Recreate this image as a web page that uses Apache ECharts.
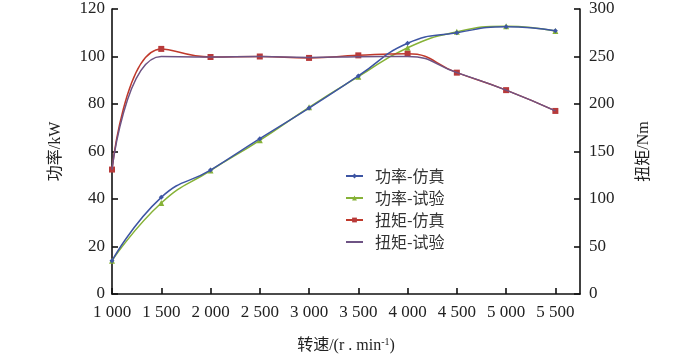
<!DOCTYPE html>
<html>
<head>
<meta charset="utf-8">
<script src="https://cdn.jsdelivr.net/npm/echarts@6/dist/echarts.min.js"></script>
<style>html,body{margin:0;padding:0;background:#fff}#c{width:700px;height:359px}</style>
</head>
<body>
<div id="c"></div>
<script>
var speeds = [1000, 1500, 2000, 2500, 3000, 3500, 4000, 4500, 5000, 5500];
var powerSim = [14.0, 40.7, 52.2, 65.4, 78.3, 91.8, 105.6, 110.0, 112.5, 110.8];
var powerExp = [14.0, 38.3, 52.0, 64.7, 78.6, 91.5, 103.7, 110.4, 112.7, 110.7];
var torqueSim = [131, 258, 249.5, 250, 248.5, 251.2, 252.8, 233, 214.6, 192.7];
var torqueExp = [131, 250, 249.5, 250, 249, 249.8, 250, 233, 214.6, 192.7];
var seriesNames = ['功率-仿真', '功率-试验', '扭矩-仿真', '扭矩-试验'];

function pairs(vals) { return speeds.map(function (s, i) { return [s, vals[i]]; }); }
var FONT = "'Liberation Serif', 'Noto Sans CJK SC', serif";
var axisLine = { lineStyle: { color: '#111', width: 1.6 } };
var axisTick = { inside: true, length: 6, lineStyle: { color: '#111', width: 1.6 } };

var chart = echarts.init(document.getElementById('c'));
chart.setOption({
  animation: false,
  backgroundColor: '#fff',
  grid: { left: 112, right: 120, top: 9, bottom: 62 },
  legend: {
    orient: 'vertical', left: 340, top: 163, itemGap: 6, itemWidth: 17, itemHeight: 6,
    textStyle: { fontSize: 16, color: '#333', fontFamily: "'Noto Sans CJK SC', sans-serif", padding: [0, 0, 0, 7] },
    data: [seriesNames[0], seriesNames[1], seriesNames[2], { name: seriesNames[3], itemStyle: { opacity: 0 } }]
  },
  xAxis: {
    type: 'value', min: 1000, max: 5750, interval: 500,
    name: '转速/(r . min{sup|-1})', nameLocation: 'middle', nameGap: 43,
    nameTextStyle: { fontSize: 16, color: '#222', fontFamily: FONT,
      rich: { sup: { fontSize: 10, fontFamily: FONT, color: '#222', padding: [0, 0, 8, 0] } } },
    axisLine: axisLine, axisTick: axisTick, splitLine: { show: false },
    axisLabel: { fontSize: 17, color: '#222', fontFamily: FONT, margin: 10, showMaxLabel: false,
      formatter: function (v) { if (v > 5500) return ''; return String(v).replace(/(\d)(\d{3})$/, '$1 $2'); } }
  },
  yAxis: [{
    type: 'value', min: 0, max: 120, interval: 20, position: 'left',
    name: '功率/kW', nameLocation: 'middle', nameGap: 48, nameRotate: 90,
    nameTextStyle: { fontSize: 16, color: '#222', fontFamily: FONT },
    axisLine: { show: true, lineStyle: axisLine.lineStyle }, axisTick: axisTick, splitLine: { show: false },
    axisLabel: { fontSize: 17, color: '#222', fontFamily: FONT, margin: 7 }
  }, {
    type: 'value', min: 0, max: 300, interval: 50, position: 'right',
    name: '扭矩/Nm', nameLocation: 'middle', nameGap: 56, nameRotate: 90,
    nameTextStyle: { fontSize: 16, color: '#222', fontFamily: FONT },
    axisLine: { show: true, lineStyle: axisLine.lineStyle }, axisTick: axisTick, splitLine: { show: false },
    axisLabel: { fontSize: 17, color: '#222', fontFamily: FONT, margin: 9 }
  }],
  series: [{
    name: seriesNames[0], type: 'line', yAxisIndex: 0, smooth: 0.5, data: pairs(powerSim),
    symbol: 'diamond', symbolSize: 5, showAllSymbol: true,
    itemStyle: { color: '#3d55a3' }, lineStyle: { color: '#3d55a3', width: 1.5 }, z: 3
  }, {
    name: seriesNames[1], type: 'line', yAxisIndex: 0, smooth: 0.5, data: pairs(powerExp),
    symbol: 'triangle', symbolSize: 6,
    itemStyle: { color: '#86b237' }, lineStyle: { color: '#86b237', width: 1.5 }, z: 2
  }, {
    name: seriesNames[2], type: 'line', yAxisIndex: 1, smooth: 0.5, data: pairs(torqueSim),
    symbol: 'rect', symbolSize: 6,
    itemStyle: { color: '#b83a3a' }, lineStyle: { color: '#c0392b', width: 1.5 }, z: 2
  }, {
    name: seriesNames[3], type: 'line', yAxisIndex: 1, smooth: 0.5, data: pairs(torqueExp),
    symbol: 'none',
    itemStyle: { color: '#6e5384' }, lineStyle: { color: '#6e5384', width: 1.5 }, z: 3
  }]
});
</script>
</body>
</html>
